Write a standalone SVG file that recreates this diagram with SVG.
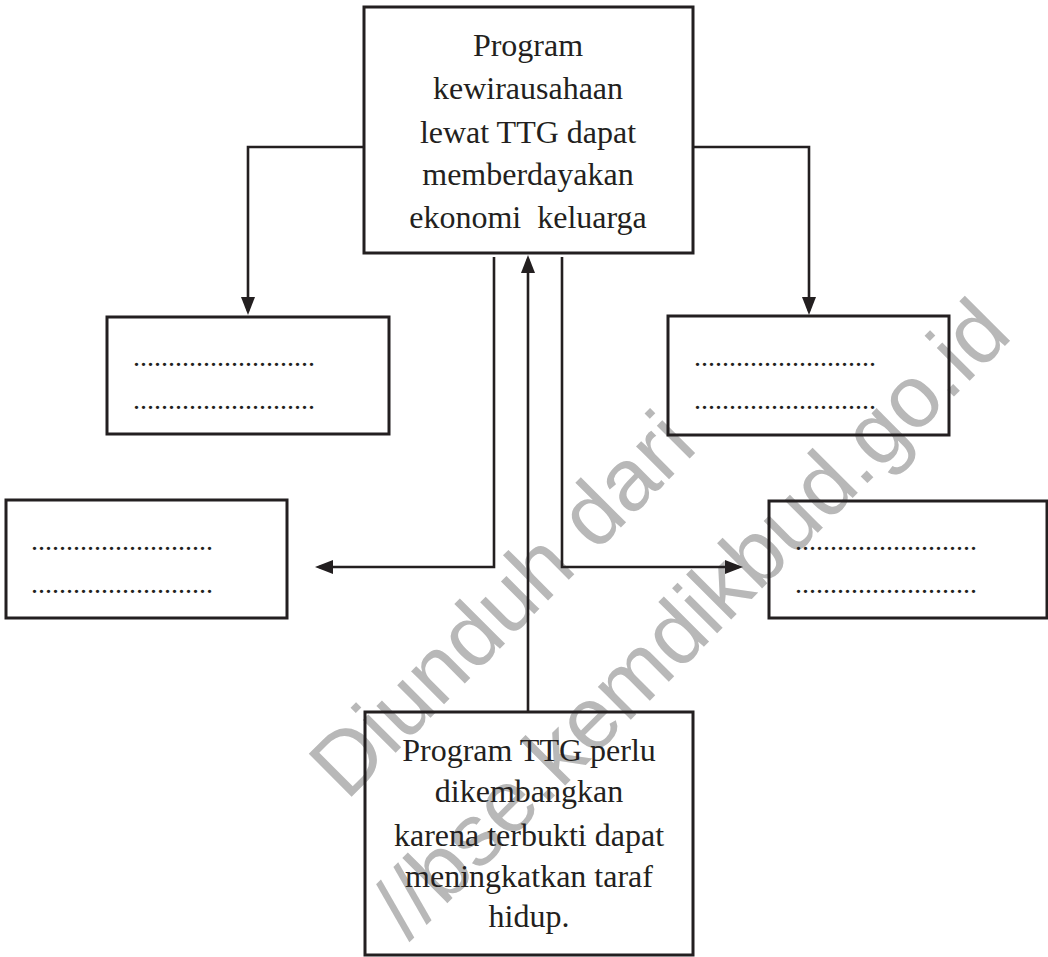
<svg xmlns="http://www.w3.org/2000/svg" width="1048" height="957" viewBox="0 0 1048 957">
<style>
.box{fill:none;stroke:#231f20;stroke-width:3}
.ln{fill:none;stroke:#231f20;stroke-width:2.6;marker-end:url(#ah)}
.t{font-family:"Liberation Serif","Times New Roman",serif;font-size:32px;fill:#231f20;text-anchor:middle}
.dots{font-family:"Liberation Serif","Times New Roman",serif;font-size:28px;fill:#231f20}
.wm{font-family:"Liberation Sans",Arial,sans-serif;font-size:88px;fill:#b8b8b8}
</style>
<defs>
<marker id="ah" viewBox="0 0 18 14" refX="14" refY="7" markerWidth="18" markerHeight="14" markerUnits="userSpaceOnUse" orient="auto">
<path d="M0,0 L18,7 L0,14 z" fill="#231f20"/>
</marker>
</defs>
<rect width="1048" height="957" fill="#ffffff"/>
<g id="watermark" transform="rotate(-45)">
<text class="wm" x="-322" y="812">Diunduh dari</text>
<text class="wm" x="-377" y="955">//bse.kemdikbud.go.id</text>
</g>
<g id="connectors">
<path class="ln" d="M364,147 H248 V311"/>
<path class="ln" d="M693,147 H809 V311"/>
<path class="ln" d="M494,257 V567 H319"/>
<path class="ln" d="M562,257 V567 H739"/>
<path class="ln" d="M528,712 V259"/>
</g>
<g id="node-top">
<rect class="box" x="364" y="7" width="329" height="246"/>
<text class="t" x="528" y="56">Program</text>
<text class="t" x="528" y="99">kewirausahaan</text>
<text class="t" x="528" y="143">lewat TTG dapat</text>
<text class="t" x="528" y="185">memberdayakan</text>
<text class="t" x="528" y="228" xml:space="preserve">ekonomi  keluarga</text>
</g>
<g id="node-left1">
<rect class="box" x="107" y="317" width="282" height="117"/>
<text class="dots" x="133" y="366">..........................</text>
<text class="dots" x="133" y="409">..........................</text>
</g>
<g id="node-right1">
<rect class="box" x="668" y="316" width="281" height="119"/>
<text class="dots" x="694" y="366">..........................</text>
<text class="dots" x="694" y="409">..........................</text>
</g>
<g id="node-left2">
<rect class="box" x="6" y="500" width="281" height="118"/>
<text class="dots" x="31" y="550">..........................</text>
<text class="dots" x="31" y="593">..........................</text>
</g>
<g id="node-right2">
<rect class="box" x="769" y="501" width="278" height="117"/>
<text class="dots" x="795" y="550">..........................</text>
<text class="dots" x="795" y="593">..........................</text>
</g>
<g id="node-bottom">
<rect class="box" x="365" y="712" width="328" height="243"/>
<text class="t" x="529" y="761">Program TTG perlu</text>
<text class="t" x="529" y="802">dikembangkan</text>
<text class="t" x="529" y="846">karena terbukti dapat</text>
<text class="t" x="529" y="887">meningkatkan taraf</text>
<text class="t" x="529" y="927">hidup.</text>
</g>
</svg>
